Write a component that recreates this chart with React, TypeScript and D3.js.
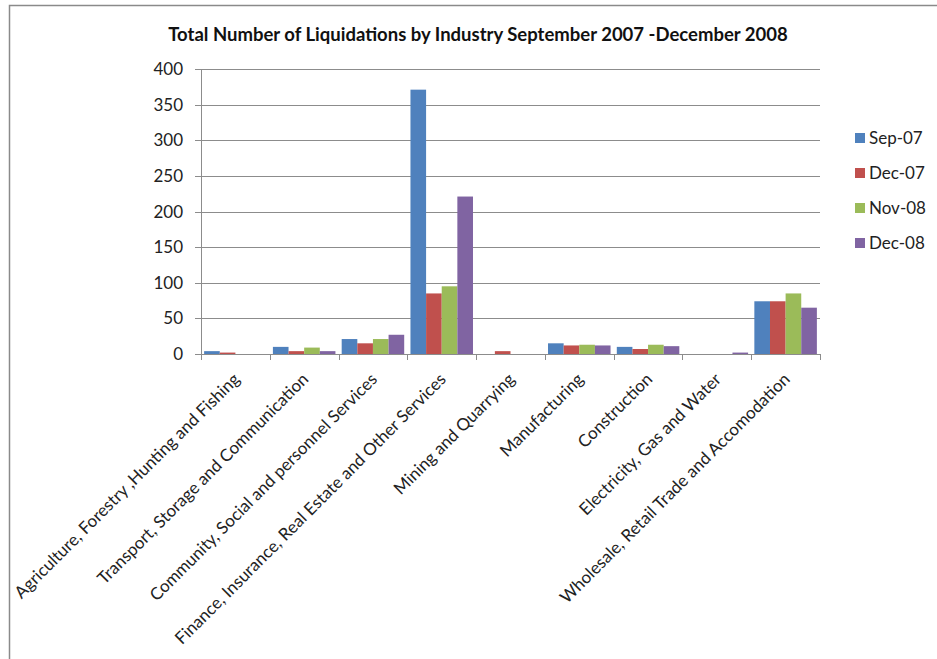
import React, { useEffect, useRef } from 'react';
import * as d3 from 'd3';

const categories = [
  'Agriculture, Forestry ,Hunting and Fishing',
  'Transport, Storage and Communication',
  'Community, Social and personnel Services',
  'Finance, Insurance, Real Estate and Other Services',
  'Mining and Quarrying',
  'Manufacturing',
  'Construction',
  'Electricity, Gas and Water',
  'Wholesale, Retail Trade and Accomodation',
];

const seriesNames = ['Sep-07', 'Dec-07', 'Nov-08', 'Dec-08'];
const seriesColors = ['#4F81BD', '#C0504D', '#9BBB59', '#8064A2'];

const sep07 = [4, 10, 21, 371, 0, 15, 10, 0, 74];
const dec07 = [2, 4, 15, 85, 4, 12, 7, 0, 74];
const nov08 = [0, 9, 21, 95, 0, 13, 13, 0, 85];
const dec08 = [0, 4, 27, 221, 0, 12, 11, 2, 65];

const yTicks = [0, 50, 100, 150, 200, 250, 300, 350, 400];

const seriesValues = [sep07, dec07, nov08, dec08];

const W = 937;
const H = 659;
const FONT = 'Lato, "Open Sans", sans-serif';

const App: React.FC = () => {
  const ref = useRef<SVGSVGElement>(null);

  useEffect(() => {
    if (!ref.current) return;
    const svg = d3.select(ref.current);
    svg.selectAll('*').remove();

    svg.append('rect').attr('width', W).attr('height', H).attr('fill', '#fff');

    // cadre
    svg.append('path')
      .attr('d', `M9.5,${H} V5.5 H${W}`)
      .attr('fill', 'none')
      .attr('stroke', '#8a8a8a')
      .attr('stroke-width', 1.5);

    const left = 201, right = 820, top = 69, bottom = 354;

    const x = d3.scaleBand<string>()
      .domain(categories)
      .range([left, right])
      .paddingInner(0)
      .paddingOuter(0);

    const x1 = d3.scaleBand<string>()
      .domain(seriesNames)
      .range([0, x.bandwidth()])
      .paddingOuter(0.2)
      .paddingInner(0);

    const y = d3.scaleLinear().domain([0, 400]).range([bottom, top]);

    // grille
    svg.append('g')
      .selectAll('line')
      .data(yTicks)
      .enter()
      .append('line')
      .attr('x1', left - 6)
      .attr('x2', right)
      .attr('y1', d => Math.round(y(d)) + 0.5)
      .attr('y2', d => Math.round(y(d)) + 0.5)
      .attr('stroke', '#8c8c8c')
      .attr('stroke-width', 1);

    // axe y
    svg.append('line')
      .attr('x1', left + 0.5).attr('x2', left + 0.5)
      .attr('y1', top).attr('y2', bottom)
      .attr('stroke', '#8c8c8c');

    svg.append('g')
      .selectAll('text')
      .data(yTicks)
      .enter()
      .append('text')
      .attr('x', 183)
      .attr('y', d => y(d))
      .attr('dy', '0.36em')
      .attr('text-anchor', 'end')
      .attr('font-family', FONT)
      .attr('font-size', 17)
      .attr('fill', '#222')
      .text(d => String(d));

    // barres
    const groups = svg.append('g')
      .selectAll('g')
      .data(categories)
      .enter()
      .append('g')
      .attr('transform', d => `translate(${x(d)},0)`);

    groups.selectAll('rect')
      .data((_, i) => seriesNames.map((s, k) => ({ s, k, v: seriesValues[k][i] })))
      .enter()
      .append('rect')
      .attr('x', d => x1(d.s) as number)
      .attr('width', x1.bandwidth())
      .attr('y', d => y(d.v))
      .attr('height', d => bottom - y(d.v))
      .attr('fill', d => seriesColors[d.k]);

    // axe x
    svg.append('line')
      .attr('x1', left).attr('x2', right)
      .attr('y1', bottom + 0.5).attr('y2', bottom + 0.5)
      .attr('stroke', '#8c8c8c');

    const edges = categories.map(c => x(c) as number).concat([right]);
    svg.append('g')
      .selectAll('line')
      .data(edges)
      .enter()
      .append('line')
      .attr('x1', d => Math.round(d) + 0.5)
      .attr('x2', d => Math.round(d) + 0.5)
      .attr('y1', bottom)
      .attr('y2', bottom + 6)
      .attr('stroke', '#8c8c8c');

    svg.append('g')
      .selectAll('text')
      .data(categories)
      .enter()
      .append('text')
      .attr('transform', d => `translate(${(x(d) as number) + x.bandwidth() / 2 + 1},${bottom + 22}) rotate(-45)`)
      .attr('dy', '0.36em')
      .attr('text-anchor', 'end')
      .attr('font-family', FONT)
      .attr('font-size', 17)
      .attr('fill', '#222')
      .text(d => d);

    // titre
    svg.append('text')
      .attr('x', 478)
      .attr('y', 41)
      .attr('text-anchor', 'middle')
      .attr('font-family', FONT)
      .attr('font-weight', 'bold')
      .attr('font-size', 18.5)
      .attr('fill', '#111')
      .text('Total Number of Liquidations  by Industry September 2007 -December 2008');

    // légende
    const legend = svg.append('g')
      .selectAll('g')
      .data(seriesNames)
      .enter()
      .append('g')
      .attr('transform', (_, i) => `translate(855,${138 + i * 35})`);

    legend.append('rect')
      .attr('x', 0).attr('y', -5)
      .attr('width', 10).attr('height', 10)
      .attr('fill', (_, i) => seriesColors[i]);

    legend.append('text')
      .attr('x', 14)
      .attr('dy', '0.36em')
      .attr('font-family', FONT)
      .attr('font-size', 17)
      .attr('fill', '#222')
      .text(d => d);
  }, []);

  return (
    <svg
      ref={ref}
      width={W}
      height={H}
      style={{ position: 'absolute', left: 0, top: 0, display: 'block' }}
    />
  );
};

export default App;
